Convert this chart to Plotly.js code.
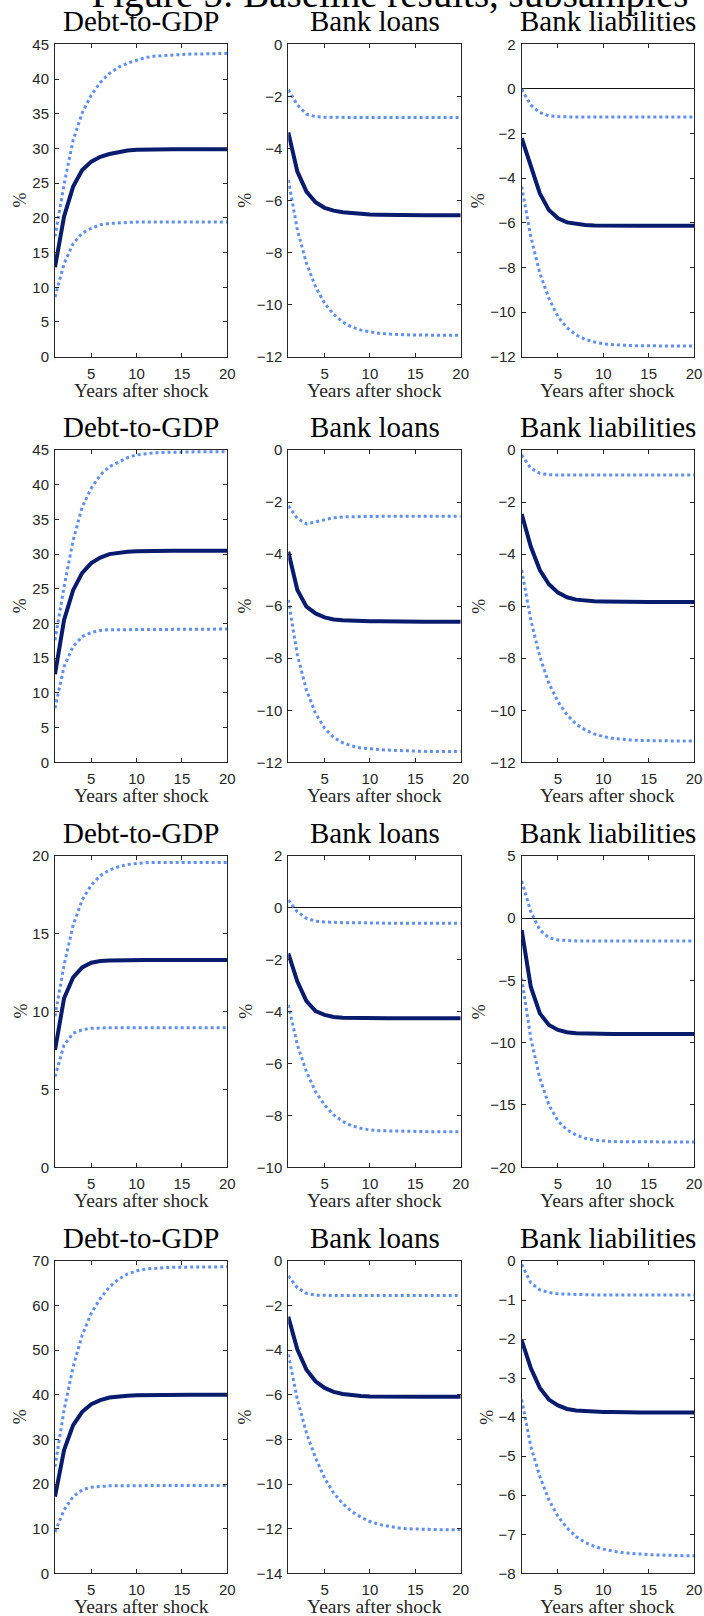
<!DOCTYPE html>
<html>
<head>
<meta charset="utf-8">
<script src="https://cdn.plot.ly/plotly-3.0.1.min.js"></script>
<style>
html,body{margin:0;padding:0;background:#fff;}
#chart{width:704px;height:1616px;}
</style>
</head>
<body>
<div id="chart"></div>
<script>
// ---------------- DATA ----------------
const years = [1,2,3,4,5,6,7,8,9,10,11,12,13,14,15,16,17,18,19,20];
const panelTitles = ["Debt-to-GDP", "Bank loans", "Bank liabilities"];
const xTitle = "Years after shock";
const yTitle = "%";
const figTitle = "Figure 5: Baseline results, subsamples";
const xTickVals = [5, 10, 15, 20];

// Subsample 1
const s1_debt_irf = [12.9,20.2,24.5,26.9,28.1,28.8,29.2,29.5,29.7,29.8,29.85,29.9,29.9,29.9,29.9,29.9,29.9,29.9,29.9,29.9];
const s1_debt_hi  = [17.3,24.8,31.2,35.1,37.7,39.5,40.8,41.7,42.3,42.7,43.1,43.3,43.4,43.5,43.55,43.6,43.6,43.65,43.65,43.7];
const s1_debt_lo  = [8.6,13.4,16.3,17.8,18.5,19.0,19.2,19.3,19.35,19.4,19.4,19.4,19.4,19.4,19.4,19.4,19.4,19.4,19.4,19.4];
const s1_loans_irf = [-3.39,-4.89,-5.66,-6.07,-6.28,-6.39,-6.45,-6.49,-6.52,-6.54,-6.55,-6.56,-6.56,-6.57,-6.57,-6.57,-6.57,-6.57,-6.57,-6.57];
const s1_loans_hi  = [-1.75,-2.33,-2.68,-2.78,-2.80,-2.81,-2.81,-2.81,-2.81,-2.81,-2.81,-2.81,-2.81,-2.81,-2.81,-2.81,-2.81,-2.81,-2.81,-2.81];
const s1_loans_lo  = [-5.21,-7.13,-8.41,-9.31,-9.95,-10.37,-10.67,-10.86,-10.98,-11.05,-11.10,-11.13,-11.15,-11.16,-11.17,-11.17,-11.18,-11.18,-11.18,-11.18];
const s1_liab_irf = [-2.21,-3.48,-4.68,-5.43,-5.80,-5.98,-6.05,-6.10,-6.12,-6.13,-6.13,-6.13,-6.13,-6.13,-6.13,-6.13,-6.13,-6.13,-6.13,-6.13];
const s1_liab_hi  = [-0.02,-0.72,-1.06,-1.20,-1.24,-1.26,-1.26,-1.26,-1.26,-1.26,-1.26,-1.26,-1.26,-1.26,-1.26,-1.26,-1.26,-1.26,-1.26,-1.26];
const s1_liab_lo  = [-4.38,-6.62,-8.26,-9.39,-10.21,-10.70,-11.03,-11.22,-11.34,-11.42,-11.46,-11.49,-11.50,-11.51,-11.52,-11.52,-11.52,-11.52,-11.52,-11.52];

// Subsample 2
const s2_debt_irf = [12.7,20.5,24.8,27.3,28.7,29.5,30.0,30.2,30.35,30.4,30.45,30.5,30.5,30.5,30.5,30.5,30.5,30.5,30.5,30.5];
const s2_debt_hi  = [17.6,25.3,32.0,36.8,39.5,41.4,42.6,43.3,43.9,44.3,44.5,44.6,44.65,44.7,44.7,44.75,44.75,44.75,44.75,44.75];
const s2_debt_lo  = [7.8,13.8,16.7,18.1,18.7,19.0,19.1,19.1,19.15,19.2,19.2,19.2,19.2,19.2,19.2,19.2,19.2,19.2,19.2,19.2];
const s2_loans_irf = [-3.91,-5.38,-6.02,-6.28,-6.43,-6.51,-6.54,-6.56,-6.57,-6.58,-6.58,-6.59,-6.59,-6.6,-6.6,-6.6,-6.6,-6.6,-6.6,-6.6];
const s2_loans_hi  = [-2.15,-2.63,-2.84,-2.75,-2.66,-2.60,-2.57,-2.56,-2.55,-2.55,-2.55,-2.55,-2.55,-2.55,-2.55,-2.55,-2.55,-2.55,-2.55,-2.55];
const s2_loans_lo  = [-5.76,-7.88,-9.22,-10.12,-10.69,-11.05,-11.25,-11.37,-11.45,-11.49,-11.51,-11.53,-11.55,-11.56,-11.57,-11.58,-11.58,-11.59,-11.59,-11.59];
const s2_liab_irf = [-2.46,-3.71,-4.61,-5.16,-5.48,-5.66,-5.75,-5.79,-5.81,-5.82,-5.83,-5.83,-5.84,-5.84,-5.84,-5.84,-5.84,-5.84,-5.84,-5.84];
const s2_liab_hi  = [-0.19,-0.70,-0.90,-0.95,-0.96,-0.96,-0.96,-0.96,-0.96,-0.96,-0.96,-0.96,-0.96,-0.96,-0.96,-0.96,-0.96,-0.96,-0.96,-0.96];
const s2_liab_lo  = [-4.61,-6.53,-7.94,-8.97,-9.67,-10.18,-10.53,-10.76,-10.91,-11.01,-11.08,-11.12,-11.14,-11.16,-11.17,-11.17,-11.18,-11.18,-11.18,-11.18];

// Subsample 3
const s3_debt_irf = [7.53,10.85,12.19,12.83,13.13,13.24,13.28,13.3,13.3,13.3,13.3,13.3,13.3,13.3,13.3,13.3,13.3,13.3,13.3,13.3];
const s3_debt_hi  = [9.7,12.98,15.55,17.16,18.12,18.72,19.08,19.29,19.44,19.51,19.55,19.57,19.57,19.57,19.57,19.57,19.57,19.57,19.57,19.57];
const s3_debt_lo  = [5.82,7.85,8.6,8.83,8.92,8.95,8.96,8.96,8.96,8.96,8.96,8.96,8.96,8.96,8.96,8.96,8.96,8.96,8.96,8.96];
const s3_loans_irf = [-1.76,-2.85,-3.60,-3.98,-4.13,-4.21,-4.24,-4.25,-4.26,-4.26,-4.26,-4.26,-4.26,-4.26,-4.26,-4.26,-4.26,-4.26,-4.26,-4.26];
const s3_loans_hi  = [0.29,-0.16,-0.41,-0.52,-0.55,-0.57,-0.58,-0.58,-0.59,-0.59,-0.59,-0.6,-0.6,-0.6,-0.6,-0.6,-0.6,-0.6,-0.6,-0.6];
const s3_loans_lo  = [-3.75,-5.29,-6.32,-7.09,-7.60,-7.98,-8.24,-8.40,-8.50,-8.56,-8.59,-8.60,-8.61,-8.62,-8.62,-8.63,-8.63,-8.63,-8.63,-8.63];
const s3_liab_irf = [-0.96,-5.51,-7.65,-8.58,-8.98,-9.17,-9.25,-9.28,-9.3,-9.3,-9.3,-9.3,-9.3,-9.3,-9.3,-9.3,-9.3,-9.3,-9.3,-9.3];
const s3_liab_hi  = [2.97,0.51,-0.96,-1.58,-1.76,-1.82,-1.84,-1.85,-1.85,-1.85,-1.85,-1.85,-1.85,-1.85,-1.85,-1.85,-1.85,-1.85,-1.85,-1.85];
const s3_liab_lo  = [-4.84,-9.65,-12.86,-15.0,-16.28,-17.0,-17.41,-17.67,-17.81,-17.89,-17.93,-17.95,-17.96,-17.97,-17.97,-17.97,-17.97,-17.97,-17.97,-17.97];

// Subsample 4
const s4_debt_irf = [17.2,27.6,33.2,36.2,37.9,38.8,39.4,39.7,39.8,39.9,39.95,40.0,40.0,40.0,40.0,40.0,40.0,40.0,40.0,40.0];
const s4_debt_hi  = [23.9,36.6,46.3,53.4,58.3,61.6,64.2,65.9,67.1,67.8,68.2,68.4,68.5,68.6,68.6,68.65,68.7,68.7,68.7,68.7];
const s4_debt_lo  = [9.3,14.2,17.2,18.7,19.3,19.5,19.6,19.6,19.65,19.7,19.7,19.7,19.7,19.7,19.7,19.7,19.7,19.7,19.7,19.7];
const s4_loans_irf = [-2.5,-3.97,-4.87,-5.39,-5.69,-5.87,-5.96,-6.02,-6.05,-6.07,-6.08,-6.08,-6.09,-6.09,-6.09,-6.09,-6.09,-6.09,-6.09,-6.09];
const s4_loans_hi  = [-0.67,-1.20,-1.45,-1.53,-1.54,-1.55,-1.55,-1.55,-1.55,-1.55,-1.55,-1.55,-1.55,-1.55,-1.55,-1.55,-1.55,-1.55,-1.55,-1.55];
const s4_loans_lo  = [-4.19,-6.21,-7.71,-8.83,-9.73,-10.40,-10.88,-11.23,-11.48,-11.68,-11.81,-11.90,-11.96,-12.00,-12.02,-12.03,-12.04,-12.05,-12.05,-12.05];
const s4_liab_irf = [-2.03,-2.74,-3.25,-3.55,-3.70,-3.79,-3.83,-3.85,-3.86,-3.87,-3.87,-3.88,-3.88,-3.88,-3.88,-3.88,-3.88,-3.88,-3.88,-3.88];
const s4_liab_hi  = [-0.09,-0.56,-0.74,-0.81,-0.84,-0.85,-0.86,-0.86,-0.87,-0.87,-0.87,-0.87,-0.87,-0.87,-0.87,-0.87,-0.87,-0.87,-0.87,-0.87];
const s4_liab_lo  = [-3.55,-4.75,-5.52,-6.12,-6.54,-6.84,-7.06,-7.21,-7.31,-7.38,-7.43,-7.47,-7.49,-7.51,-7.52,-7.53,-7.54,-7.55,-7.55,-7.55];

// y-axis ranges and tick steps per panel (row-major)
const yRanges = [[0,45],[-12,0],[-12,2], [0,45],[-12,0],[-12,0], [0,20],[-10,2],[-20,5], [0,70],[-14,0],[-8,0]];
const yDticks = [5,2,2, 5,2,2, 5,2,5, 10,2,1];

// ---------------- LAYOUT ----------------
const W = 704, H = 1616;
const colLeft = [55, 288.3, 521.7], colRight = [227.3, 460.7, 694];
const rowTop = [44.3, 450, 855.7, 1261], rowBot = [356.7, 762.3, 1167.3, 1573.3];

const series = [
  [s1_debt_irf,s1_debt_hi,s1_debt_lo],[s1_loans_irf,s1_loans_hi,s1_loans_lo],[s1_liab_irf,s1_liab_hi,s1_liab_lo],
  [s2_debt_irf,s2_debt_hi,s2_debt_lo],[s2_loans_irf,s2_loans_hi,s2_loans_lo],[s2_liab_irf,s2_liab_hi,s2_liab_lo],
  [s3_debt_irf,s3_debt_hi,s3_debt_lo],[s3_loans_irf,s3_loans_hi,s3_loans_lo],[s3_liab_irf,s3_liab_hi,s3_liab_lo],
  [s4_debt_irf,s4_debt_hi,s4_debt_lo],[s4_loans_irf,s4_loans_hi,s4_loans_lo],[s4_liab_irf,s4_liab_hi,s4_liab_lo]
];

const NAVY = '#081b6c', BLUE = '#5f8ff2', AX = '#262626';
const SERIF = '"Liberation Serif", "Times New Roman", serif';
const SANS = '"Liberation Sans", Arial, Helvetica, sans-serif';

function px2x(p){ return p / W; }
function px2y(p){ return 1 - p / H; }

const traces = [];
const layout = {
  width: W, height: H,
  margin: {l:0, r:0, t:0, b:0},
  paper_bgcolor: '#fff', plot_bgcolor: '#fff',
  showlegend: false,
  // figure title: baseline sits 7 px below the top edge, so only its lower part shows
  title: {
    text: figTitle, xref: 'container', yref: 'container',
    x: px2x(390), xanchor: 'center', y: px2y(7), yanchor: 'bottom',
    font: {family: SERIF, size: 39, color: '#000'}
  },
  annotations: []
};

for (let i = 0; i < 12; i++) {
  const r = Math.floor(i/3), c = i % 3;
  const n = i + 1;
  const xa = 'x' + (n === 1 ? '' : n), ya = 'y' + (n === 1 ? '' : n);
  const [mid, hi, lo] = series[i];
  [hi, lo].forEach(arr => traces.push({
    x: years, y: arr, xaxis: xa, yaxis: ya, type: 'scatter', mode: 'lines',
    line: {color: BLUE, width: 3, dash: 'dot'}, hoverinfo: 'skip'
  }));
  traces.push({
    x: years, y: mid, xaxis: xa, yaxis: ya, type: 'scatter', mode: 'lines',
    line: {color: NAVY, width: 4}, hoverinfo: 'skip'
  });

  const common = {
    showline: true, linecolor: AX, linewidth: 1, mirror: 'ticks',
    ticks: 'inside', ticklen: 4, tickwidth: 1, tickcolor: AX,
    showgrid: false, fixedrange: true,
    tickfont: {family: SANS, size: 15, color: AX}
  };
  layout['xaxis' + (n === 1 ? '' : n)] = Object.assign({}, common, {
    domain: [px2x(colLeft[c]), px2x(colRight[c])],
    anchor: ya, range: [1, 20], tickmode: 'array', tickvals: xTickVals,
    zeroline: false, ticklabelstandoff: 3
  });
  const yr = yRanges[i];
  const hasZero = yr[0] < 0 && yr[1] > 0;
  layout['yaxis' + (n === 1 ? '' : n)] = Object.assign({}, common, {
    domain: [px2y(rowBot[r]), px2y(rowTop[r])],
    anchor: xa, range: yr, tickmode: 'linear', tick0: 0, dtick: yDticks[i],
    zeroline: hasZero, zerolinecolor: '#111', zerolinewidth: 1,
    ticklabelstandoff: 2
  });

  const cx = (colLeft[c] + colRight[c]) / 2;
  // panel title
  layout.annotations.push({
    text: panelTitles[c], xref: 'paper', yref: 'paper',
    x: px2x(cx), y: px2y(rowTop[r]), xanchor: 'center', yanchor: 'bottom',
    yshift: 5, showarrow: false, font: {family: SERIF, size: 29, color: '#000'}
  });
  // x-axis title
  layout.annotations.push({
    text: xTitle, xref: 'paper', yref: 'paper',
    x: px2x(cx), y: px2y(rowBot[r]), xanchor: 'center', yanchor: 'top',
    yshift: -21, showarrow: false, font: {family: SERIF, size: 19.5, color: '#262626'}
  });
  // y-axis title
  const wide = String(yr[0]).length >= 3 || String(yr[1]).length >= 3;
  const off = wide ? 43 : 35;
  layout.annotations.push({
    text: yTitle, xref: 'paper', yref: 'paper',
    x: px2x(colLeft[c] - off), y: px2y((rowTop[r] + rowBot[r]) / 2),
    xanchor: 'center', yanchor: 'middle', textangle: -90,
    showarrow: false, font: {family: SERIF, size: 18, color: '#262626'}
  });
}

Plotly.newPlot('chart', traces, layout, {staticPlot: true, displayModeBar: false});
</script>
</body>
</html>
